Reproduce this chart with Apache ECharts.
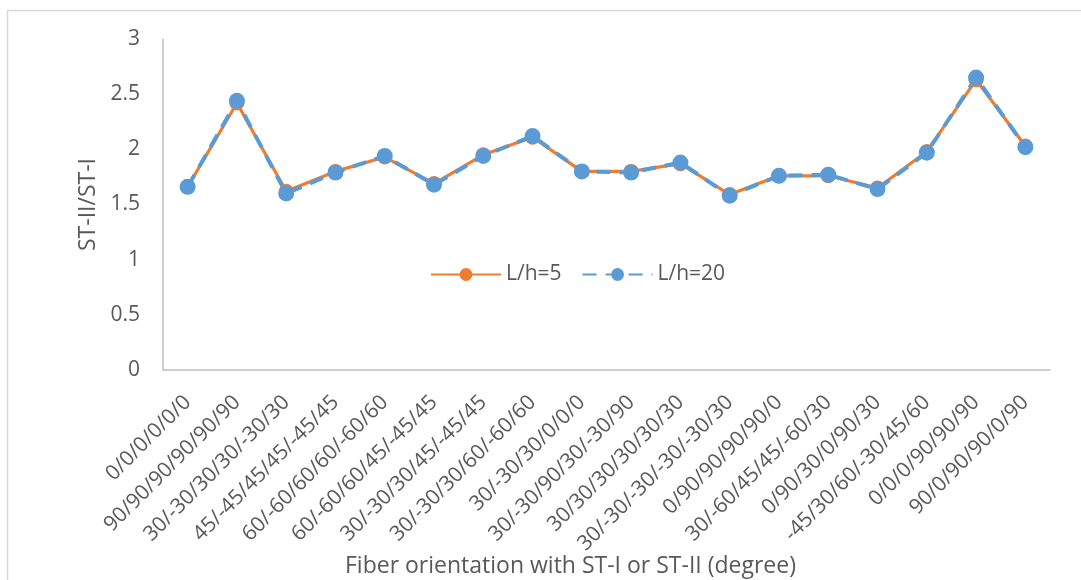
<!DOCTYPE html>
<html>
<head>
<meta charset="utf-8">
<script src="https://cdn.jsdelivr.net/npm/echarts@6/dist/echarts.min.js"></script>
<style>html,body{margin:0;padding:0;background:#fff;}#c{width:1081px;height:580px;}</style>
</head>
<body>
<div id="c"></div>
<script>
const categories = [
  '0/0/0/0/0/0', '90/90/90/90/90/90', '30/-30/30/30/-30/30', '45/-45/45/45/-45/45',
  '60/-60/60/60/-60/60', '60/-60/60/45/-45/45', '30/-30/30/45/-45/45', '30/-30/30/60/-60/60',
  '30/-30/30/0/0/0', '30/-30/90/30/-30/90', '30/30/30/30/30/30', '30/-30/-30/-30/-30/30',
  '0/90/90/90/90/0', '30/-60/45/45/-60/30', '0/90/30/0/90/30', '-45/30/60/-30/45/60',
  '0/0/0/90/90/90', '90/0/90/90/0/90'
];
const seriesLh5 = [1.66, 2.42, 1.62, 1.80, 1.93, 1.69, 1.95, 2.11, 1.80, 1.80, 1.87, 1.59, 1.76, 1.76, 1.65, 1.98, 2.63, 2.03];
const seriesLh20 = [1.66, 2.44, 1.60, 1.79, 1.94, 1.68, 1.94, 2.12, 1.80, 1.79, 1.88, 1.58, 1.76, 1.77, 1.64, 1.97, 2.65, 2.02];
const yTicks = [0, 0.5, 1, 1.5, 2, 2.5, 3];

const FONT = 'Open Sans';
const TXT = '#595959';
const chart = echarts.init(document.getElementById('c'), null, {renderer: 'canvas'});
chart.setOption({
  animation: false,
  backgroundColor: '#fff',
  textStyle: {fontFamily: FONT},
  grid: {left: 163, right: 31, top: 39, bottom: 210, containLabel: false},
  legend: {
    left: 425, top: 259,
    itemWidth: 70, itemHeight: 16, itemGap: 20,
    textStyle: {fontFamily: FONT, fontSize: 21, color: TXT},
    data: ['L/h=5', 'L/h=20']
  },
  xAxis: {
    type: 'category',
    data: categories,
    boundaryGap: true,
    axisLine: {lineStyle: {color: '#bfbfbf', width: 1.5}},
    axisTick: {show: false},
    axisLabel: {rotate: 45, interval: 0, fontFamily: FONT, fontSize: 21, color: TXT, margin: 29}
  },
  yAxis: {
    type: 'value',
    min: yTicks[0], max: yTicks[yTicks.length - 1], interval: 0.5,
    name: 'ST-II/ST-I', nameLocation: 'middle', nameGap: 63,
    nameTextStyle: {fontFamily: FONT, fontSize: 23, color: TXT},
    splitLine: {show: false},
    axisLine: {show: true, lineStyle: {color: '#bfbfbf', width: 1.5}},
    axisTick: {show: false},
    axisLabel: {fontFamily: FONT, fontSize: 21, color: TXT, margin: 23}
  },
  graphic: [
    {type: 'rect', shape: {x: 7.5, y: 10.5, width: 1200, height: 700}, style: {fill: 'none', stroke: '#d9d9d9', lineWidth: 1.5}, silent: true},
    {type: 'text', x: 345, y: 566, style: {text: 'Fiber orientation with ST-I or ST-II (degree)', font: '23px "Open Sans"', fill: TXT, textAlign: 'left', textVerticalAlign: 'middle'}}
  ],
  series: [
    {
      name: 'L/h=5', type: 'line', data: seriesLh5,
      symbol: 'circle', symbolSize: 15,
      lineStyle: {color: '#ED7D31', width: 3.2},
      itemStyle: {color: '#ED7D31'}
    },
    {
      name: 'L/h=20', type: 'line', data: seriesLh20,
      symbol: 'circle', symbolSize: 16,
      lineStyle: {color: '#5B9BD5', width: 4, type: [14, 9]},
      itemStyle: {color: '#5B9BD5'}
    }
  ]
});
</script>
</body>
</html>
